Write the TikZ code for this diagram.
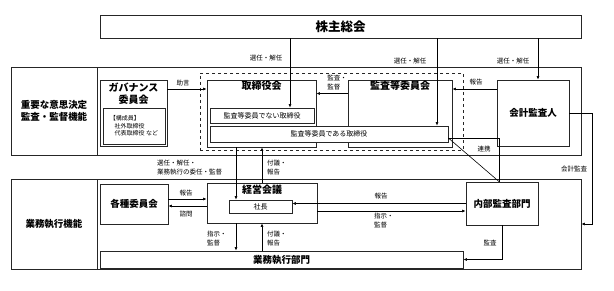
\documentclass[tikz,border=0pt]{standalone}
\usepackage{fontspec}
\setmainfont{Noto Sans CJK JP}
\usetikzlibrary{positioning,arrows.meta,calc}

\begin{document}
\begin{tikzpicture}[
    x=1pt, y=-1pt,
    orgBox/.style={rectangle, draw=black!85, fill=white, line width=0.9pt, inner sep=0pt, font=\fontsize{9.5}{12}\selectfont\bfseries, align=center},
    memberBox/.style={rectangle, draw=black!85, fill=white, line width=0.7pt, inner sep=0pt, font=\fontsize{7}{8}\selectfont},
    titleFont/.style={font=\fontsize{10}{12.5}\selectfont\bfseries, align=center},
    smallLabel/.style={font=\fontsize{6.5}{9}\selectfont, inner sep=0pt, align=left},
    flowArrow/.style={-{Latex[length=3.5pt,width=3pt]}, line width=0.6pt},
    flowLine/.style={line width=0.6pt}
]
    \useasboundingbox (0,0) rectangle (614,291);

    % shareholders and the two functional bands
    \node[orgBox, minimum width=481pt, minimum height=23pt, font=\fontsize{12.5}{14}\selectfont\bfseries] (gm) at (340.5,26.5) {株主総会};

    \node[orgBox, minimum width=570pt, minimum height=88pt] (upBand) at (296,111) {};
    \node[orgBox, minimum width=86pt, minimum height=88pt] (upLabel) at (54,111) {重要な意思決定\\監査・監督機能};

    \node[orgBox, minimum width=570pt, minimum height=90pt] (lowBand) at (296,224) {};
    \node[orgBox, minimum width=86pt, minimum height=90pt] (lowLabel) at (54,224) {業務執行機能};

    % supervisory side
    \node[orgBox, dashed, fill=none, line width=0.7pt, minimum width=263pt, minimum height=77pt] (dashFrame) at (331.5,111.5) {};

    \node[orgBox, minimum width=109pt, minimum height=67pt,
        label={[titleFont, anchor=north, inner sep=1pt]north:取締役会}] (bod) at (261.5,113.5) {};
    \node[memberBox, minimum width=104pt, minimum height=15pt] (nonAud) at (262,115.5) {監査等委員でない取締役};

    \node[orgBox, minimum width=104pt, minimum height=67pt,
        label={[titleFont, anchor=north, inner sep=1.5pt]north:監査等委員会}] (acm) at (400,113.5) {};
    \node[memberBox, minimum width=238pt, minimum height=16pt] (audDir) at (329,134) {監査等委員である取締役};

    \node[orgBox, minimum width=67pt, minimum height=66pt,
        label={[titleFont, anchor=north, inner sep=3pt]north:ガバナンス\\委員会}] (gov) at (133.5,113) {};
    \node[memberBox, minimum width=62pt, minimum height=36pt, align=left, font=\fontsize{6}{7.5}\selectfont] (govMembers) at (134,126)
        {【構成員】\\\hspace{0.8em}社外取締役\\\hspace{0.8em}代表取締役 など};

    \node[orgBox, minimum width=72pt, minimum height=66pt] (cpa) at (533,113) {会計監査人};

    % executive side
    \node[orgBox, minimum width=68pt, minimum height=40pt] (cmt) at (134,204) {各種委員会};
    \node[orgBox, minimum width=110pt, minimum height=40pt,
        label={[titleFont, anchor=north, inner sep=2.5pt]north:経営会議}] (mgm) at (262,203) {};
    \node[memberBox, minimum width=63pt, minimum height=13pt] (pres) at (260.5,206.5) {社長};
    \node[orgBox, minimum width=72pt, minimum height=43pt] (iad) at (502,203.5) {内部監査部門};
    \node[orgBox, minimum width=363pt, minimum height=17pt] (ops) at (281.5,259.5) {業務執行部門};

    % connectors
    \draw[flowArrow] ([xshift=28pt]nonAud.north |- gm.south) -- ([xshift=28pt]nonAud.north);
    \draw[flowArrow] ([xshift=108pt]audDir.north |- gm.south) -- ([xshift=108pt]audDir.north);
    \draw[flowArrow] ([xshift=5pt]cpa.north |- gm.south) -- ([xshift=5pt]cpa.north);

    \draw[flowArrow] ([yshift=24pt]gov.east) -- ([yshift=24pt]gov.east -| bod.west);
    \draw[flowArrow] ([yshift=20pt]acm.west) -- ([yshift=20pt]acm.west -| bod.east);
    \draw[flowArrow] ([yshift=24pt]cpa.west) -- ([yshift=24pt]cpa.west -| acm.east);

    \draw[flowLine] ([yshift=-4pt]audDir.east) -| ([xshift=-3pt]iad.north);
    \draw[flowLine] ([yshift=-4pt]audDir.east) -- ([xshift=-3pt]iad.north);
    \draw[flowArrow] (cpa.east) -- ++(23,0) |- (lowBand.east);

    \draw[flowArrow] ([xshift=-25.5pt]bod.south) -- ([xshift=-25.5pt]bod.south |- pres.north);
    \draw[flowArrow] (mgm.north) -- (mgm.north |- bod.south);
    \draw[flowArrow] ([xshift=-26pt]mgm.south) -- ([xshift=-26pt]mgm.south |- ops.north);
    \draw[flowArrow] (ops.north -| mgm.south) -- (mgm.south);

    \draw[flowArrow] ([yshift=5pt]cmt.east) -- ([yshift=5pt]cmt.east -| mgm.west);
    \draw[flowArrow] ([yshift=-3pt]mgm.west) -- ([yshift=-3pt]mgm.west -| cmt.east);
    \draw[flowArrow] (iad.west) -- (iad.west -| pres.east);
    \draw[flowArrow] ([yshift=-7.5pt]iad.west -| mgm.east) -- ([yshift=-7.5pt]iad.west);
    \draw[flowArrow] (iad.south) |- (ops.east);

    % connector labels
    \node[smallLabel] (lblElectA) at (266,58) {選任・解任};
    \node[smallLabel] (lblElectB) at (410,61) {選任・解任};
    \node[smallLabel] (lblElectC) at (513,61) {選任・解任};
    \node[smallLabel] (lblAdvice) at (183,83) {助言};
    \node[smallLabel] (lblAudit) at (337,83) {監査・\\監督};
    \node[smallLabel] (lblCpaRep) at (476,82) {報告};
    \node[smallLabel] (lblCoop) at (484,149) {連携};
    \node[smallLabel] (lblCpaAud) at (574,169) {会計監査};
    \node[smallLabel, anchor=west] (lblDelegate) at (157,168) {選任・解任・\\業務執行の委任・監督};
    \node[smallLabel, anchor=west] (lblSubmitA) at (267,168) {付議・\\報告};
    \node[smallLabel, anchor=west] (lblDirectA) at (207,239) {指示・\\監督};
    \node[smallLabel, anchor=west] (lblSubmitB) at (267,239) {付議・\\報告};
    \node[smallLabel] (lblCmtRep) at (186,193) {報告};
    \node[smallLabel] (lblConsult) at (186,214) {諮問};
    \node[smallLabel] (lblIadRep) at (381,196) {報告};
    \node[smallLabel, anchor=west] (lblDirectB) at (374,221) {指示・\\監督};
    \node[smallLabel] (lblIadAud) at (490,243) {監査};
\end{tikzpicture}
\end{document}
